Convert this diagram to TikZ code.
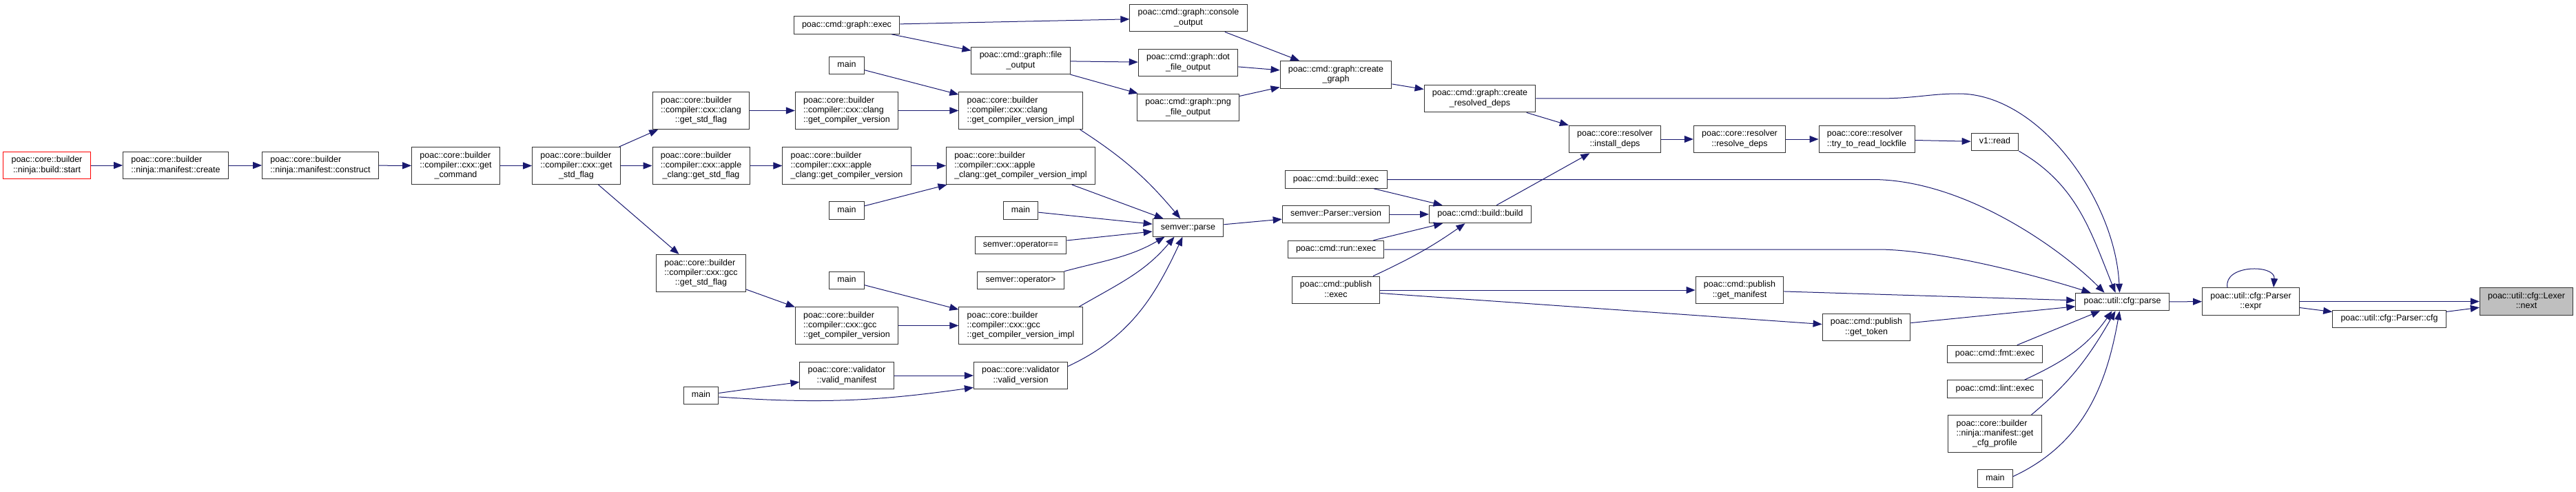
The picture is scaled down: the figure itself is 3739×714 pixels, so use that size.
\documentclass[tikz,border=0pt]{standalone}
\usepackage{fontspec}
\setmainfont{Liberation Sans}
\usetikzlibrary{arrows.meta}
\definecolor{edgeblue}{HTML}{191970}
\newcommand{\fnlabel}[1]{\begin{tabular}{@{}l@{}}#1\end{tabular}}
\newcommand{\lastln}[1]{\multicolumn{1}{@{}c@{}}{#1}}

\begin{document}
\begin{tikzpicture}[
  fnbox/.style  = {draw=black!80, fill=white, line width=1bp, inner xsep=11.8bp, inner ysep=5.6bp,
                   font=\fontsize{12.5bp}{14.3bp}\selectfont},
  fnroot/.style = {fnbox, draw=red},
  fnself/.style = {fnbox, fill=black!25},
  fncall/.style = {draw=edgeblue, line width=1bp, -{Triangle[length=13bp,width=10bp]}},
  x=1bp, y=-1bp,
]
  \path[use as bounding box, fill=white] (0,0) rectangle (3739,714);

  \node[fnroot] (start)      at (68,240)      {\fnlabel{poac::core::builder\\ \lastln{::ninja::build::start}}};
  \node[fnbox]  (mcreate)    at (255,240)     {\fnlabel{poac::core::builder\\ \lastln{::ninja::manifest::create}}};
  \node[fnbox]  (mconstruct) at (465,240)     {\fnlabel{poac::core::builder\\ \lastln{::ninja::manifest::construct}}};
  \node[fnbox]  (getcmd)     at (661.5,240.5) {\fnlabel{poac::core::builder\\ ::compiler::cxx::get\\ \lastln{\_command}}};
  \node[fnbox]  (stdflag)    at (836.5,240.5) {\fnlabel{poac::core::builder\\ ::compiler::cxx::get\\ \lastln{\_std\_flag}}};
  \node[fnbox]  (clangstd)   at (1017.5,160.5) {\fnlabel{poac::core::builder\\ ::compiler::cxx::clang\\ \lastln{::get\_std\_flag}}};
  \node[fnbox]  (applestd)   at (1017.5,240.5) {\fnlabel{poac::core::builder\\ ::compiler::cxx::apple\\ \lastln{\_clang::get\_std\_flag}}};
  \node[fnbox]  (gccstd)     at (1017.5,396.5) {\fnlabel{poac::core::builder\\ ::compiler::cxx::gcc\\ \lastln{::get\_std\_flag}}};
  \node[fnbox]  (mainD)      at (1017.5,574)  {\fnlabel{main}};
  \node[fnbox]  (gexec)      at (1229,36.5)   {\fnlabel{poac::cmd::graph::exec}};
  \node[fnbox]  (mainA)      at (1229,95)     {\fnlabel{main}};
  \node[fnbox]  (clangver)   at (1229,160.5)  {\fnlabel{poac::core::builder\\ ::compiler::cxx::clang\\ \lastln{::get\_compiler\_version}}};
  \node[fnbox]  (applever)   at (1229,240.5)  {\fnlabel{poac::core::builder\\ ::compiler::cxx::apple\\ \lastln{\_clang::get\_compiler\_version}}};
  \node[fnbox]  (mainB)      at (1229,305.5)  {\fnlabel{main}};
  \node[fnbox]  (mainC)      at (1229,407)    {\fnlabel{main}};
  \node[fnbox]  (gccver)     at (1229,472.5)  {\fnlabel{poac::core::builder\\ ::compiler::cxx::gcc\\ \lastln{::get\_compiler\_version}}};
  \node[fnbox]  (vmanifest)  at (1229,545)    {\fnlabel{poac::core::validator\\ \lastln{::valid\_manifest}}};
  \node[fnbox]  (gfile)      at (1481.5,88)   {\fnlabel{poac::cmd::graph::file\\ \lastln{\_output}}};
  \node[fnbox]  (clangimpl)  at (1481.5,160.5) {\fnlabel{poac::core::builder\\ ::compiler::cxx::clang\\ \lastln{::get\_compiler\_version\_impl}}};
  \node[fnbox]  (appleimpl)  at (1481.5,240.5) {\fnlabel{poac::core::builder\\ ::compiler::cxx::apple\\ \lastln{\_clang::get\_compiler\_version\_impl}}};
  \node[fnbox]  (mainE)      at (1481.5,305.5) {\fnlabel{main}};
  \node[fnbox]  (opeq)       at (1481.5,356)  {\fnlabel{semver::operator==}};
  \node[fnbox]  (opgt)       at (1481.5,407)  {\fnlabel{semver::operator>}};
  \node[fnbox]  (gccimpl)    at (1481.5,472.5) {\fnlabel{poac::core::builder\\ ::compiler::cxx::gcc\\ \lastln{::get\_compiler\_version\_impl}}};
  \node[fnbox]  (vversion)   at (1481.5,545)  {\fnlabel{poac::core::validator\\ \lastln{::valid\_version}}};
  \node[fnbox]  (gconsole)   at (1725,26)     {\fnlabel{poac::cmd::graph::console\\ \lastln{\_output}}};
  \node[fnbox]  (gdot)       at (1724.5,91)   {\fnlabel{poac::cmd::graph::dot\\ \lastln{\_file\_output}}};
  \node[fnbox]  (gpng)       at (1724.5,156)  {\fnlabel{poac::cmd::graph::png\\ \lastln{\_file\_output}}};
  \node[fnbox]  (sparse)     at (1724.5,330.5) {\fnlabel{semver::parse}};
  \node[fnbox]  (gcreate)    at (1939,108.5)  {\fnlabel{poac::cmd::graph::create\\ \lastln{\_graph}}};
  \node[fnbox]  (bexec)      at (1939,260.5)  {\fnlabel{poac::cmd::build::exec}};
  \node[fnbox]  (pversion)   at (1939,311)    {\fnlabel{semver::Parser::version}};
  \node[fnbox]  (rexec)      at (1939,362)    {\fnlabel{poac::cmd::run::exec}};
  \node[fnbox]  (pexec)      at (1939,421)    {\fnlabel{poac::cmd::publish\\ \lastln{::exec}}};
  \node[fnbox]  (gresolved)  at (2148,143)    {\fnlabel{poac::cmd::graph::create\\ \lastln{\_resolved\_deps}}};
  \node[fnbox]  (bbuild)     at (2148.5,311)  {\fnlabel{poac::cmd::build::build}};
  \node[fnbox]  (install)    at (2344,202)    {\fnlabel{poac::core::resolver\\ \lastln{::install\_deps}}};
  \node[fnbox]  (resolve)    at (2525,202)    {\fnlabel{poac::core::resolver\\ \lastln{::resolve\_deps}}};
  \node[fnbox]  (getmanifest) at (2525,421)   {\fnlabel{poac::cmd::publish\\ \lastln{::get\_manifest}}};
  \node[fnbox]  (lockfile)   at (2709.5,202)  {\fnlabel{poac::core::resolver\\ \lastln{::try\_to\_read\_lockfile}}};
  \node[fnbox]  (gettoken)   at (2709,475)    {\fnlabel{poac::cmd::publish\\ \lastln{::get\_token}}};
  \node[fnbox]  (vread)      at (2895.5,206)  {\fnlabel{v1::read}};
  \node[fnbox]  (fmtexec)    at (2895.5,514)  {\fnlabel{poac::cmd::fmt::exec}};
  \node[fnbox]  (lintexec)   at (2895.5,564.5) {\fnlabel{poac::cmd::lint::exec}};
  \node[fnbox]  (cfgprofile) at (2895.5,629.5) {\fnlabel{poac::core::builder\\ ::ninja::manifest::get\\ \lastln{\_cfg\_profile}}};
  \node[fnbox]  (mainF)      at (2896,694.5)  {\fnlabel{main}};
  \node[fnbox]  (cparse)     at (3080.5,438)  {\fnlabel{poac::util::cfg::parse}};
  \node[fnbox]  (pexpr)      at (3267,437.5)  {\fnlabel{poac::util::cfg::Parser\\ \lastln{::expr}}};
  \node[fnbox]  (pcfg)       at (3468,463)    {\fnlabel{poac::util::cfg::Parser::cfg}};
  \node[fnself] (lnext)      at (3667,437.5)  {\fnlabel{poac::util::cfg::Lexer\\ \lastln{::next}}};

  \draw[fncall] (start) -- (mcreate);
  \draw[fncall] (mcreate) -- (mconstruct);
  \draw[fncall] (mconstruct) -- (getcmd);
  \draw[fncall] (getcmd) -- (stdflag);
  \draw[fncall] (stdflag) -- (clangstd);
  \draw[fncall] (stdflag) -- (applestd);
  \draw[fncall] (stdflag) -- (gccstd);
  \draw[fncall] (clangstd) -- (clangver);
  \draw[fncall] (applestd) -- (applever);
  \draw[fncall] (gccstd) -- (gccver);
  \draw[fncall] (mainA) -- (clangimpl);
  \draw[fncall] (clangver) -- (clangimpl);
  \draw[fncall] (applever) -- (appleimpl);
  \draw[fncall] (mainB) -- (appleimpl);
  \draw[fncall] (mainC) -- (gccimpl);
  \draw[fncall] (gccver) -- (gccimpl);
  \draw[fncall] (mainD) -- (vmanifest);
  \draw[fncall] ([yshift=-2bp]mainD.east) to[out=-4,in=188] ([yshift=3bp]vversion.south west);
  \draw[fncall] (vmanifest) -- (vversion);
  \draw[fncall] ([xshift=-4bp]clangimpl.south east) to[out=-33,in=130] (sparse);
  \draw[fncall] (appleimpl) -- (sparse);
  \draw[fncall] (mainE) -- (sparse);
  \draw[fncall] (opeq) -- (sparse);
  \draw[fncall] (opgt.north east) to[out=15,in=210] ([xshift=-34bp]sparse.south);
  \draw[fncall] ([xshift=85bp]gccimpl.north) to[out=30,in=230] ([xshift=-20bp]sparse.south);
  \draw[fncall] ([yshift=-7bp]vversion.north east) to[out=25,in=245] ([xshift=-8bp]sparse.south);
  \draw[fncall] (sparse) -- (pversion);
  \draw[fncall] (gexec) -- (gconsole);
  \draw[fncall] (gexec) -- (gfile);
  \draw[fncall] (gfile) -- (gdot);
  \draw[fncall] (gfile) -- (gpng);
  \draw[fncall] (gconsole) -- (gcreate);
  \draw[fncall] (gdot) -- (gcreate);
  \draw[fncall] (gpng) -- (gcreate);
  \draw[fncall] (gcreate) -- (gresolved);
  \draw[fncall] (gresolved) -- (install);
  \draw[fncall] (gresolved) -- (2725,143) .. controls (2780,143) and (2800,136) .. (2843,136)
                .. controls (2960,136) and (3070,290) .. ([xshift=-4bp]cparse.north);
  \draw[fncall] (install) -- (resolve);
  \draw[fncall] (resolve) -- (lockfile);
  \draw[fncall] (lockfile) -- (vread);
  \draw[fncall] (vread.south east) to[out=-30,in=112] ([xshift=-10bp]cparse.north);
  \draw[fncall] (pversion) -- (bbuild);
  \draw[fncall] (bexec) -- (bbuild);
  \draw[fncall] (bexec) -- (2717,260.5) .. controls (2850,260.5) and (2990,360) .. ([xshift=-26bp]cparse.north);
  \draw[fncall] (rexec) -- (bbuild);
  \draw[fncall] (rexec) -- (2725,362) .. controls (2810,362) and (2950,398) .. ([xshift=-46bp]cparse.north);
  \draw[fncall] ([xshift=54bp]pexec.north) to[out=25,in=215] ([xshift=-22bp]bbuild.south);
  \draw[fncall] (bbuild) -- (install);
  \draw[fncall] (pexec) -- (getmanifest);
  \draw[fncall] (pexec) -- (gettoken);
  \draw[fncall] (getmanifest) -- (cparse);
  \draw[fncall] (gettoken) -- (cparse);
  \draw[fncall] (fmtexec) -- (cparse);
  \draw[fncall] ([xshift=43bp]lintexec.north) to[out=25,in=235] ([xshift=-15bp]cparse.south);
  \draw[fncall] ([xshift=53bp]cfgprofile.north) to[out=40,in=240] ([xshift=-10bp]cparse.south);
  \draw[fncall] ([yshift=3bp]mainF.east) to[out=25,in=260] ([xshift=-4bp]cparse.south);
  \draw[fncall] (cparse) -- (pexpr);
  \draw[fncall] ([xshift=-34bp]pexpr.north) to[out=100,in=85,looseness=1.3] ([xshift=33bp]pexpr.north);
  \draw[fncall] (pexpr) -- (lnext);
  \draw[fncall] (pexpr) -- (pcfg);
  \draw[fncall] (pcfg) -- (lnext);
\end{tikzpicture}
\end{document}
